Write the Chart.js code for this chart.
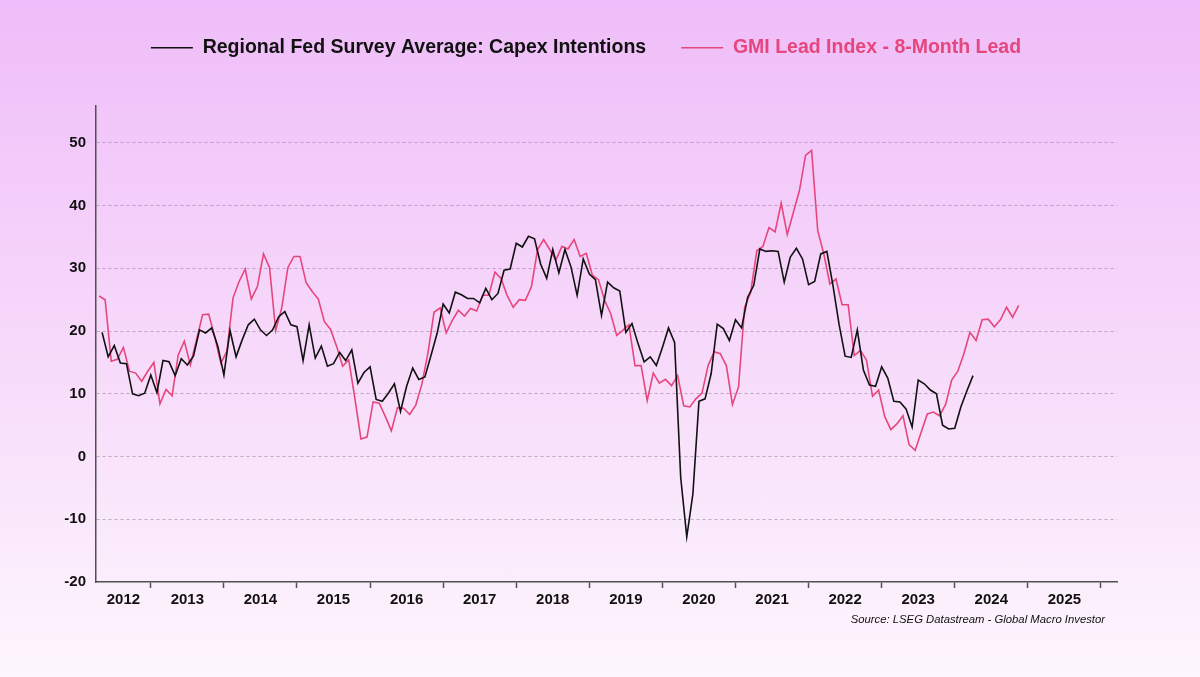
<!DOCTYPE html>
<html>
<head>
<meta charset="utf-8">
<script src="https://cdn.jsdelivr.net/npm/chart.js@4.4.1/dist/chart.umd.min.js"></script>
<style>
  html, body { margin: 0; padding: 0; }
  body {
    width: 1200px; height: 677px; overflow: hidden; position: relative;
    background: linear-gradient(to bottom, #efbdf9 0%, #f6d6fa 45%, #fdf6fd 100%);
    font-family: "Liberation Sans", Arial, sans-serif;
  }
  #c { position: absolute; left: 0; top: 0; }
  #source {
    position: absolute; right: 95px; top: 614px;
    font: italic 11.3px "Liberation Sans", Arial, sans-serif; line-height: 11.3px;
    color: #111; white-space: nowrap;
  }
</style>
</head>
<body>
<canvas id="c" width="1200" height="677"></canvas>
<div id="source">Source: LSEG Datastream - Global Macro Investor</div>
<script>
// ---- DATA (monthly) ----
const capexLabel = "Regional Fed Survey Average: Capex Intentions";
const gmiLabel = "GMI Lead Index - 8-Month Lead";

// Regional Fed Survey Average: Capex Intentions, monthly from May 2012
const capexStart = 2012 + 4 / 12;
const capexValues = [
  19.8, 15.9, 17.7, 14.9, 14.8, 10.0, 9.7, 10.1, 13.0, 10.2, 15.3, 15.1,
  12.9, 15.6, 14.6, 16.0, 20.2, 19.7, 20.5, 17.6, 13.0, 20.1, 15.9, 18.6,
  21.0, 21.9, 20.2, 19.3, 20.2, 22.3, 23.1, 21.0, 20.7, 15.3, 21.0, 15.7,
  17.6, 14.4, 14.8, 16.6, 15.3, 17.0, 11.7, 13.4, 14.3, 9.1, 8.8, 10.1,
  11.6, 7.2, 11.2, 14.1, 12.3, 12.7, 16.1, 19.6, 24.3, 22.9, 26.2, 25.8,
  25.2, 25.2, 24.5, 26.8, 25.0, 26.0, 29.7, 29.9, 34.0, 33.4, 35.1, 34.7,
  30.7, 28.4, 33.0, 29.3, 33.0, 30.2, 25.7, 31.5, 29.1, 28.2, 22.5, 27.8,
  26.9, 26.4, 19.8, 21.2, 18.0, 15.1, 15.9, 14.5, 17.4, 20.5, 18.2, -3.3,
  -12.8, -6.0, 8.8, 9.2, 13.2, 21.1, 20.4, 18.5, 21.8, 20.5, 25.4, 27.3,
  33.1, 32.7, 32.8, 32.7, 27.8, 31.8, 33.2, 31.5, 27.4, 27.9, 32.3, 32.7,
  27.3, 21.1, 16.0, 15.8, 20.2, 13.8, 11.4, 11.2, 14.3, 12.5, 8.8, 8.7,
  7.6, 4.7, 12.2, 11.6, 10.6, 10.0, 5.0, 4.4, 4.5, 7.9, 10.5, 12.9
];

// GMI Lead Index - 8-Month Lead, monthly (mid-month) from Apr 2012
const gmiStart = 2012 + 3.5 / 12;
const gmiValues = [
  25.6, 25.0, 15.2, 15.5, 17.4, 13.6, 13.3, 12.0, 13.6, 15.0, 8.4, 10.7,
  9.7, 16.2, 18.4, 14.6, 18.6, 22.6, 22.7, 19.1, 14.9, 16.8, 25.3, 27.9,
  29.9, 25.1, 27.1, 32.3, 30.1, 20.1, 23.7, 30.1, 31.9, 31.9, 27.7, 26.3,
  25.1, 21.5, 20.3, 17.6, 14.4, 15.4, 9.3, 2.8, 3.1, 8.7, 8.5, 6.4,
  4.1, 7.8, 7.7, 6.7, 8.2, 11.5, 16.5, 23.0, 23.7, 19.7, 21.7, 23.3,
  22.4, 23.6, 23.2, 25.7, 25.7, 29.4, 28.4, 25.7, 23.8, 25.0, 24.9, 27.1,
  33.0, 34.6, 33.0, 31.3, 33.5, 33.1, 34.6, 31.9, 32.4, 28.9, 28.2, 24.9,
  22.8, 19.3, 20.1, 21.0, 14.5, 14.5, 8.9, 13.3, 11.7, 12.3, 11.3, 12.9,
  8.1, 7.9, 9.2, 10.1, 14.5, 16.7, 16.4, 14.5, 8.3, 11.1, 23.8, 26.2,
  32.8, 33.5, 36.5, 35.8, 40.4, 35.4, 38.9, 42.4, 48.0, 48.8, 36.0, 32.3,
  27.5, 28.3, 24.2, 24.2, 16.1, 16.9, 15.4, 9.6, 10.6, 6.4, 4.3, 5.2,
  6.5, 1.9, 1.0, 3.9, 6.8, 7.1, 6.5, 8.3, 12.2, 13.6, 16.4, 19.8,
  18.5, 21.8, 21.9, 20.7, 21.8, 23.8, 22.2, 24.1
];

// Axis ticks
const yearLabels = [2012, 2013, 2014, 2015, 2016, 2017, 2018, 2019, 2020, 2021, 2022, 2023, 2024, 2025];
const yTicks = [-20, -10, 0, 10, 20, 30, 40, 50];
const xMin = 2012.25, xMax = 2026.22;
const yMin = -20, yMax = 56;

// ---- STYLE ----
const pink = '#E5477D';
const black = '#111111';
const axisColor = '#505050';
const gridColor = 'rgba(120,100,135,0.45)';

const toPoints = (start, vals) => vals.map((v, i) => ({ x: start + i / 12, y: v }));

const legendSpacer = {
  id: 'legendSpacer',
  beforeInit(chart) {
    const orig = chart.legend.fit;
    chart.legend.fit = function () { orig.call(this); this.height += 37.75; };
  }
};

new Chart(document.getElementById('c'), {
  type: 'line',
  data: {
    datasets: [
      { label: capexLabel, data: toPoints(capexStart, capexValues), borderColor: black, borderWidth: 1.6, pointRadius: 0, tension: 0, fill: false },
      { label: gmiLabel, data: toPoints(gmiStart, gmiValues), borderColor: pink, borderWidth: 1.6, pointRadius: 0, tension: 0, fill: false }
    ]
  },
  options: {
    responsive: false,
    animation: false,
    devicePixelRatio: 1,
    layout: { padding: { left: 55, right: 83, top: 3, bottom: 65 } },
    plugins: {
      tooltip: { enabled: false },
      title: { display: false },
      legend: {
        display: true,
        position: 'top',
        align: 'center',
        labels: {
          boxWidth: 42,
          boxHeight: 1.6,
          padding: 35,
          font: { family: '"Liberation Sans", Arial, sans-serif', size: 19.5, weight: 'bold' },
          generateLabels(chart) {
            return chart.data.datasets.map((ds, i) => ({
              text: ds.label, fillStyle: ds.borderColor, strokeStyle: ds.borderColor,
              lineWidth: 0, fontColor: ds.borderColor, hidden: false, datasetIndex: i
            }));
          }
        }
      }
    },
    scales: {
      x: {
        type: 'linear',
        min: xMin,
        max: xMax,
        afterBuildTicks(scale) {
          const t = [];
          yearLabels.forEach(y => {
            const lo = Math.max(y, xMin), hi = Math.min(y + 1, xMax);
            t.push({ value: (lo + hi) / 2 });
            if (y + 1 <= xMax) t.push({ value: y + 1 });
          });
          scale.ticks = t;
        },
        ticks: {
          autoSkip: false,
          maxRotation: 0,
          padding: 3,
          color: '#111',
          font: { family: '"Liberation Sans", Arial, sans-serif', size: 15, weight: 'bold' },
          callback(value) { return Number.isInteger(value) ? '' : String(Math.floor(value)); }
        },
        grid: {
          display: true,
          drawOnChartArea: false,
          drawTicks: true,
          tickLength: 6,
          tickWidth: 1.5,
          tickColor: (ctx) => (ctx.tick && Number.isInteger(ctx.tick.value)) ? axisColor : 'rgba(0,0,0,0)'
        },
        border: { display: true, color: axisColor, width: 1.5 }
      },
      y: {
        type: 'linear',
        min: yMin,
        max: yMax,
        afterFit(scale) { scale.width = 41; },
        afterBuildTicks(scale) { scale.ticks = yTicks.map(v => ({ value: v })); },
        ticks: {
          padding: 10,
          color: '#111',
          font: { family: '"Liberation Sans", Arial, sans-serif', size: 15, weight: 'bold' },
          callback(value) { return String(value); }
        },
        grid: {
          drawTicks: false,
          lineWidth: 1,
          color: (ctx) => (ctx.tick && ctx.tick.value === yMin) ? 'rgba(0,0,0,0)' : gridColor
        },
        border: { display: true, color: axisColor, width: 1.5, dash: [3, 3] }
      }
    }
  },
  plugins: [legendSpacer]
});
</script>
</body>
</html>
